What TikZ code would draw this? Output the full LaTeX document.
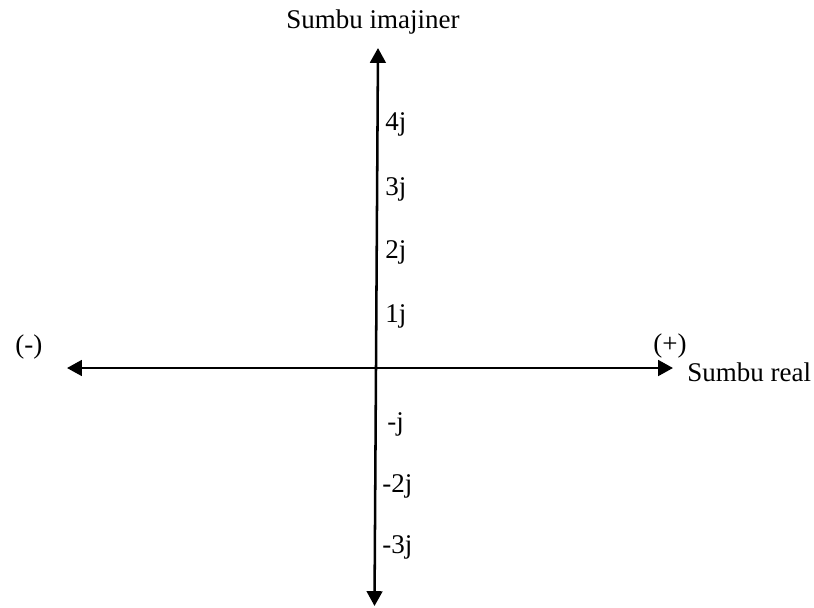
\documentclass[tikz,border=0pt]{standalone}
\usepackage{fontspec}
\setmainfont{Liberation Serif}
\usetikzlibrary{arrows.meta, positioning}
\tikzset{
	axistext/.style={font=\fontsize{19.2}{23}\selectfont, inner sep=0pt, anchor=base west}
}
\tikzset{
	axisline/.style={line width=1.8pt, <->}
}

\begin{document}
\begin{tikzpicture}[x=0.025cm, y=-0.025cm, >={Triangle[length=0.37cm, width=0.39cm]}]
      \useasboundingbox (0,0) rectangle (814,607);
      % axis ends
      \coordinate (reneg) at (67,368);
      \coordinate (repos) at (673,368);
      \coordinate (imneg) at (374.5,606);
      \coordinate (impos) at (378,48);
      \draw[axisline] (reneg) -- (repos);
      \draw[axisline] (imneg) -- (impos);
      % axis names
      \node[axistext] (imname) at (286,28) {Sumbu imajiner};
      \node[axistext] (rename) at (687,381) {Sumbu real};
      \node[axistext] (neg) at (15,353) {(-)};
      \node[axistext] (pos) at (653,352) {(+)};
      % imaginary units
      \node[axistext] (j4) at (385,130) {4j};
      \node[axistext] (j3) at (385,195) {3j};
      \node[axistext] (j2) at (385,258) {2j};
      \node[axistext] (j1) at (385,322) {1j};
      \node[axistext] (jm1) at (387,430) {-j};
      \node[axistext] (jm2) at (382,492) {-2j};
      \node[axistext] (jm3) at (382,553) {-3j};
    \end{tikzpicture}
\end{document}
